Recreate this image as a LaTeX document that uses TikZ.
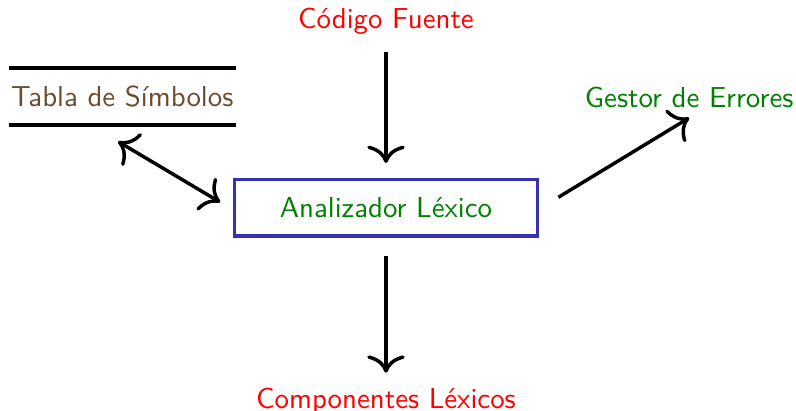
\documentclass[tikz,border=0pt]{standalone}
\usepackage{tikz}
\usepackage{xcolor}
\usetikzlibrary{arrows.meta, positioning, calc}

\definecolor{estructura}{rgb}{0.2,0.2,0.7}
\definecolor{cafe}{rgb}{0.42,0.30,0.18}
\definecolor{verde}{rgb}{0,0.5,0}

\tikzset{
  flecha/.style={very thick, -{To[length=6pt,width=13pt]}},
  dobleflecha/.style={very thick, {To[length=6pt,width=13pt]}-{To[length=6pt,width=13pt]}},
  etiqueta/.style={font=\sffamily, inner sep=0pt}
}

\begin{document}
\begin{tikzpicture}
				  \useasboundingbox (-4.698,-2.471) rectangle (4.99,2.531);
				  \node[etiqueta, text=red] (fuente) at (0,2.27) {Código Fuente};
				  \node[etiqueta, text=verde, draw=estructura, line width=1.3pt, minimum width=3.69cm, minimum height=0.69cm] (lexico) at (0,0) {Analizador Léxico};
				  \node[etiqueta, text=red] (componentes) at (0,-2.35) {Componentes Léxicos};
				  \node[etiqueta, text=cafe, minimum width=2.75cm, minimum height=0.68cm] (tabla) at (-3.21,1.355) {Tabla de Símbolos};
				  \node[etiqueta, text=verde] (gestor) at (3.69,1.35) {Gestor de Errores};
				  \draw[line width=1.4pt] (tabla.north west) -- (tabla.north east);
				  \draw[line width=1.4pt] (tabla.south west) -- (tabla.south east);
				  \draw[flecha] ([yshift=-0.2cm]fuente.south) -- ([yshift=0.18cm]lexico.north);
				  \draw[flecha] ([yshift=-0.22cm]lexico.south) -- ([yshift=0.18cm]componentes.north);
				  \draw[dobleflecha] ([xshift=-0.05cm,yshift=-0.2cm]tabla.south) -- ([xshift=-0.15cm,yshift=0.07cm]lexico.west);
				  \draw[flecha] ([xshift=0.23cm,yshift=0.13cm]lexico.east) -- ([yshift=-0.12cm]gestor.south);
				\end{tikzpicture}
\end{document}
